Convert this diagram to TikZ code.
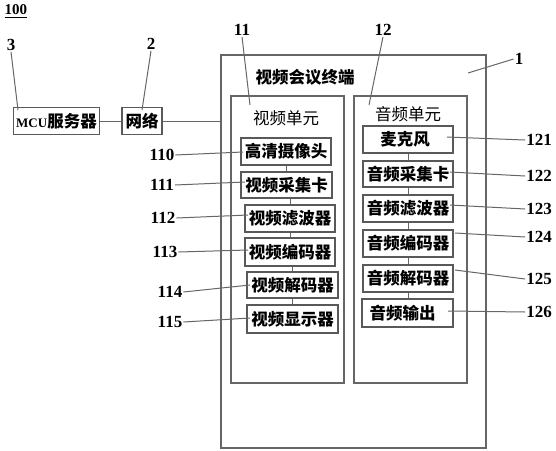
\documentclass[tikz,border=0pt]{standalone}
\usepackage{fontspec}
\setmainfont{Liberation Serif}
\newfontfamily\cjk{Noto Sans CJK SC}
\begin{document}
\begin{tikzpicture}[x=1pt,y=-1pt,
  ln/.style={draw=black!60, line width=1pt},
  frame/.style={draw=black!60, line width=1.1pt, inner sep=0pt},
  box/.style={draw=black!65, line width=1.1pt, inner sep=0pt, text=black,
    font=\cjk\bfseries\fontsize{16.5}{18}\selectfont},
  sz/.style 2 args={minimum width=#1pt, minimum height=#2pt},
  num/.style={font=\bfseries\fontsize{17}{19}\selectfont, inner sep=1pt, text=black},
  ttl/.style={font=\cjk\bfseries\fontsize{16.5}{18}\selectfont, inner sep=0pt, text=black}]
\useasboundingbox (0,0) rectangle (556,450);
% top label
\node[font=\bfseries\fontsize{15}{17}\selectfont, inner sep=0pt] (n100) at (16,10) {100};
\draw[line width=0.9pt] (n100.south west) ++(0,2.5) coordinate (u1) -- (u1 -| n100.south east);
% outer boxes
\node[box, sz={86}{27}] (mcu) at (56.5,121) {{\normalfont\bfseries\fontsize{13}{14}\selectfont MCU}服务器};
\node[box, sz={40}{27}] (net) at (142,121) {网络};
\node[frame, sz={265}{393}] (term) at (353.5,251.5) {};
\node[frame, sz={113}{287}] (vu) at (287.5,239.5) {};
\node[frame, sz={113}{287}] (au) at (410.5,239.5) {};
\node[ttl] (tt) at (305,77) {视频会议终端};
\node[ttl, font=\cjk\fontsize{16.5}{18}\selectfont] (vt) at (286,118) {视频单元};
\node[ttl, font=\cjk\fontsize{16.5}{18}\selectfont] (at) at (408,114) {音频单元};
\draw[ln] (mcu.east) -- (net.west);
\draw[ln] (net.east) -- (net.east -| term.west);
% video boxes
\node[box, sz={90}{27}] (v0) at (286,151.5) {高清摄像头};
\node[box, sz={91}{26}] (v1) at (286.5,185) {视频采集卡};
\node[box, sz={90}{27}] (v2) at (290,218.5) {视频滤波器};
\node[box, sz={90}{28}] (v3) at (290,252) {视频编码器};
\node[box, sz={91}{26}] (v4) at (292.5,285) {视频解码器};
\node[box, sz={91}{28}] (v5) at (292.5,319) {视频显示器};
\draw[ln] (v0.south) -- (v0.south |- v1.north);
\draw[ln] (v2.north) -- (v2.north |- v1.south);
\draw[ln] (v2.south) -- (v2.south |- v3.north);
\draw[ln] (v4.north) -- (v4.north |- v3.south);
\draw[ln] (v4.south) -- (v4.south |- v5.north);
% audio boxes
\node[box, sz={90}{27}] (a0) at (408,139.5) {\hspace*{2pt}麦克风\hspace*{8pt}};
\node[box, sz={90}{26}] (a1) at (408,174) {音频采集卡};
\node[box, sz={90}{27}] (a2) at (408,208.5) {音频滤波器};
\node[box, sz={90}{27}] (a3) at (408,243.5) {音频编码器};
\node[box, sz={90}{27}] (a4) at (408,278.5) {音频解码器};
\node[box, sz={91}{28}] (a5) at (407.5,313) {\hspace*{2pt}音频输出\hspace*{12pt}};
\foreach \p/\q in {a0/a1,a1/a2,a2/a3,a3/a4,a4/a5} \draw[ln] (\p.south) -- (\p.south |- \q.north);
% labels
\node[num] (n3) at (11,45) {3};
\node[num] (n2) at (151,44) {2};
\node[num] (n1) at (519,59) {1};
\node[num] (n11) at (242,30) {11};
\node[num] (n12) at (383,30) {12};
\node[num] (n110) at (162,155) {110};
\node[num] (n111) at (162,185) {111};
\node[num] (n112) at (163,218) {112};
\node[num] (n113) at (165,252) {113};
\node[num] (n114) at (170,292) {114};
\node[num] (n115) at (170,322) {115};
\node[num] (n121) at (539,140) {121};
\node[num] (n122) at (539,176) {122};
\node[num] (n123) at (539,209) {123};
\node[num] (n124) at (539,237) {124};
\node[num] (n125) at (539,279) {125};
\node[num] (n126) at (539,312) {126};
% leader ends
\coordinate (e3) at (18,110);
\coordinate (e2) at (142,110);
\coordinate (e1) at (468,73);
\coordinate (e11) at (250,105);
\coordinate (e12) at (369,105);
\coordinate (e110) at (243,152);
\coordinate (e111) at (245,182);
\coordinate (e112) at (248,215);
\coordinate (e113) at (248,250);
\coordinate (e114) at (250,285);
\coordinate (e115) at (250,318);
\coordinate (e121) at (447,137);
\coordinate (e122) at (450,172);
\coordinate (e123) at (450,205);
\coordinate (e124) at (455,233);
\coordinate (e125) at (455,270);
\coordinate (e126) at (448,311);
\draw[ln] (n3.south) -- (e3);
\draw[ln] (n2.south) -- (e2);
\draw[ln] (n1.west) -- (e1);
\draw[ln] (n11.south) -- (e11);
\draw[ln] (n12.south) -- (e12);
\foreach \k in {110,111,112,113,114,115} \draw[ln] (n\k.east) -- (e\k);
\foreach \k in {121,122,123,124,125,126} \draw[ln] (n\k.west) -- (e\k);
\end{tikzpicture}
\end{document}
